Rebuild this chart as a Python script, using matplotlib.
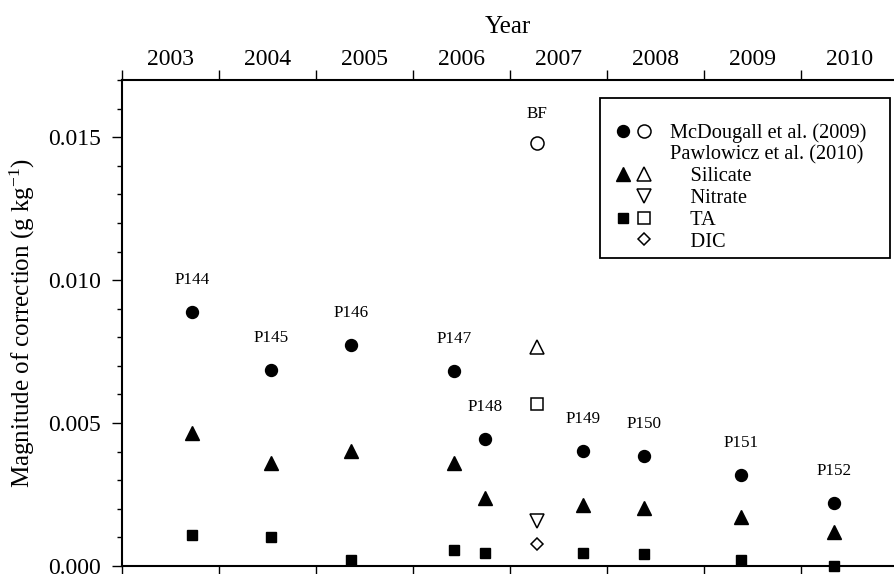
import matplotlib.pyplot as plt
from matplotlib.lines import Line2D
from matplotlib.patches import Rectangle
from matplotlib.legend_handler import HandlerTuple

plt.rcParams['font.family'] = ['Liberation Serif', 'DejaVu Serif']
plt.rcParams['mathtext.fontset'] = 'custom'
plt.rcParams['mathtext.rm'] = 'Liberation Serif'
plt.rcParams['mathtext.it'] = 'Liberation Serif:italic'

# cruises (decimal year) and correction magnitudes, g/kg
cruise = ['P144', 'P145', 'P146', 'P147', 'P148', 'P149', 'P150', 'P151', 'P152']
cruise_year = [2003.72, 2004.54, 2005.36, 2006.42, 2006.74, 2007.75, 2008.38, 2009.38, 2010.34]
mcdougall = [0.00888, 0.00685, 0.00773, 0.00682, 0.00444, 0.00402, 0.00385, 0.00318, 0.00220]
silicate = [0.00465, 0.00360, 0.00402, 0.00360, 0.00238, 0.00213, 0.00203, 0.00171, 0.00119]
ta = [0.00108, 0.00101, 0.00021, 0.00056, 0.00045, 0.00045, 0.00042, 0.00021, 0.00000]

# BF station, open symbols
bf_label = 'BF'
bf_year = [2007.28]
bf_mcdougall = [0.01479]
bf_silicate = [0.00766]
bf_nitrate = [0.00157]
bf_ta = [0.00566]
bf_dic = [0.00077]

years = list(range(2003, 2011))

fig = plt.figure(figsize=(8.94, 5.74), dpi=100)
ax = fig.add_axes([122 / 894, 8 / 574, 772 / 894, 486 / 574])

fc, fs, ft = 8.6, 7.4, 9.5
oc = 9.4
ew = 1.1
ax.plot(cruise_year, mcdougall, 'o', color='black', ms=fc, clip_on=False)
ax.plot(cruise_year, silicate, '^', color='black', ms=ft, clip_on=False)
ax.plot(cruise_year, ta, 's', color='black', ms=fs, clip_on=False)
ax.plot(bf_year, bf_mcdougall, 'o', mfc='white', mec='black', mew=ew, ms=oc)
ax.plot(bf_year, bf_silicate, '^', mfc='white', mec='black', mew=ew, ms=10)
ax.plot(bf_year, bf_nitrate, 'v', mfc='white', mec='black', mew=ew, ms=10)
ax.plot(bf_year, bf_ta, 's', mfc='white', mec='black', mew=ew, ms=8.2)
ax.plot(bf_year, bf_dic, 'D', mfc='white', mec='black', mew=ew, ms=6.6)

for name, x, y in zip(cruise, cruise_year, mcdougall):
    ax.annotate(name, (x, y), xytext=(0, 23), textcoords='offset points',
                ha='center', va='center', fontsize=12.3)
ax.annotate(bf_label, (bf_year[0], bf_mcdougall[0]), xytext=(0, 21),
            textcoords='offset points', ha='center', va='center', fontsize=12.3)

ax.set_xlim(2003, 2010.96)
ax.set_ylim(0, 0.017)

ax.spines['right'].set_visible(False)
for s in ['left', 'top', 'bottom']:
    ax.spines[s].set_linewidth(1.5)

ax.set_xticks(years)
ax.set_xticklabels([])
ax.set_xticks([y + 0.5 for y in years], minor=True)
ax.set_xticklabels([str(y) for y in years], minor=True)
ax.tick_params(axis='x', which='major', top=True, bottom=True, direction='out',
               length=7, width=1, labelbottom=False, labeltop=False)
ax.tick_params(axis='x', which='minor', top=True, bottom=False, length=0,
               labeltop=True, labelbottom=False, labelsize=17, pad=7)

ax.set_yticks([0.000, 0.005, 0.010, 0.015])
ax.set_yticklabels(['0.000', '0.005', '0.010', '0.015'])
ax.set_yticks([i / 1000 for i in range(18)], minor=True)
ax.tick_params(axis='y', which='major', length=7, width=1, labelsize=17, pad=8)
ax.tick_params(axis='y', which='minor', length=3.5, width=1)

ax.xaxis.set_label_position('top')
ax.set_xlabel('Year', fontsize=18, labelpad=12)
ax.set_ylabel(r'Magnitude of correction (g kg$^{-1}$)', fontsize=18, labelpad=8)

# legend: filled and open symbols side by side
blank = Line2D([], [], linestyle='none', marker='None')
def mk(m, filled, ms):
    if filled:
        return Line2D([], [], linestyle='none', marker=m, color='black', ms=ms)
    return Line2D([], [], linestyle='none', marker=m, mfc='white', mec='black', mew=ew, ms=ms)

handles = [
    (mk('o', True, fc), mk('o', False, oc)),
    blank,
    (mk('^', True, ft), mk('^', False, 10)),
    (blank, mk('v', False, 10)),
    (mk('s', True, fs), mk('s', False, 8.2)),
    (blank, mk('D', False, 6.6)),
]
labels = ['McDougall et al. (2009)', 'Pawlowicz et al. (2010)',
          '    Silicate', '    Nitrate', '    TA', '    DIC']
ax.legend(handles, labels, handler_map={tuple: HandlerTuple(ndivide=None, pad=0)},
          loc='upper left', bbox_to_anchor=(0.614, 0.945), frameon=False,
          fontsize=14.7, handlelength=2.1, handletextpad=0.72, labelspacing=0.12,
          borderpad=0.3)
ax.add_patch(Rectangle((0.619, 0.634), 0.376, 0.329, transform=ax.transAxes,
                       fill=False, ec='black', lw=1.3, clip_on=False))

fig.savefig('out.png', dpi=100)
